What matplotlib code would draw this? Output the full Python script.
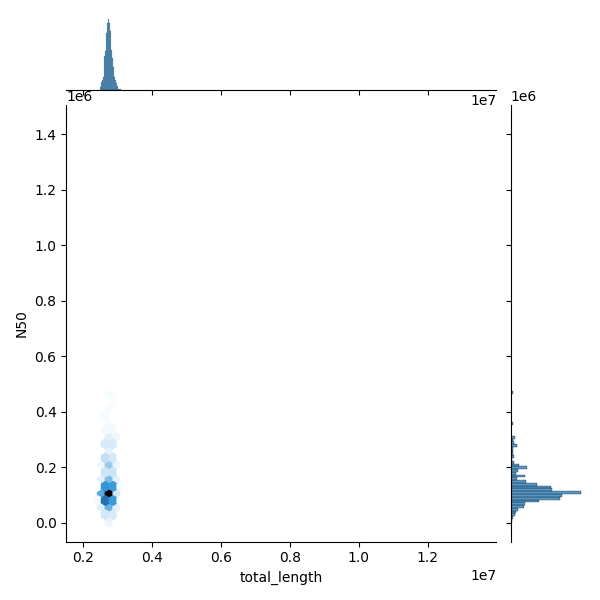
import matplotlib
matplotlib.use("Agg")
import matplotlib.pyplot as plt
import matplotlib as mpl
import numpy as np
import seaborn as sns

# joint data: (total_length, N50, number of assemblies)
hex_len = [2.770e6, 2.657e6, 2.883e6, 2.657e6, 2.883e6, 2.543e6, 2.996e6,
           2.770e6, 2.770e6, 2.543e6, 2.996e6, 2.543e6, 2.996e6, 2.657e6,
           2.883e6, 2.770e6, 2.657e6, 2.883e6, 2.770e6, 2.543e6, 2.996e6,
           2.657e6, 2.883e6, 2.770e6, 2.657e6, 2.883e6, 2.770e6, 2.996e6,
           2.657e6, 2.883e6, 2.770e6, 2.657e6, 2.770e6, 2.883e6, 2.770e6,
           2.430e6, 3.110e6,
           13.42e6, 2.090e6, 2.900e6]
hex_n50 = [0.105e6, 0.0795e6, 0.0795e6, 0.1305e6, 0.1305e6, 0.105e6, 0.105e6,
           0.054e6, 0.156e6, 0.054e6, 0.054e6, 0.156e6, 0.156e6, 0.0285e6,
           0.0285e6, 0.003e6, 0.1815e6, 0.1815e6, 0.207e6, 0.207e6, 0.207e6,
           0.2325e6, 0.2325e6, 0.258e6, 0.2835e6, 0.2835e6, 0.309e6, 0.309e6,
           0.3345e6, 0.3345e6, 0.360e6, 0.3855e6, 0.411e6, 0.4365e6, 0.462e6,
           0.0795e6, 0.1305e6,
           0.050e6, 0.100e6, 1.433e6]
hex_count = [300, 180, 135, 144, 135, 114, 30,
             105, 90, 24, 18, 21, 18, 30,
             27, 15, 36, 36, 72, 12, 15,
             42, 30, 18, 27, 27, 21, 12,
             9, 9, 6, 6, 6, 4, 8,
             9, 6,
             1, 1, 1]

# marginal histogram of total_length
len_hist_start = 2.49e6
len_hist_width = 0.029e6
len_hist_counts = [10, 25, 30, 40, 100, 115, 170, 200, 212, 200, 175,
                   120, 95, 70, 40, 30, 20, 12, 5, 3, 3]

# marginal histogram of N50
n50_hist_start = 0.003e6
n50_hist_width = 0.01e6
n50_hist_counts = [2, 5, 12, 15, 22, 38, 42, 82, 145, 150, 207, 120, 117, 78,
                   45, 18, 42, 16, 22, 48, 25, 8, 3, 8, 5, 5, 5, 18, 8, 6,
                   12, 0, 0, 0, 0, 5, 0, 0, 0, 0, 0, 0, 0, 0, 0, 0, 5]

color = "C0"
color_rgb = mpl.colors.to_rgb(color)
colors = [sns.utils.set_hls_values(color_rgb, l=l) for l in np.linspace(1, 0, 12)]
cmap = sns.blend_palette(colors, as_cmap=True)

g = sns.JointGrid(height=6)

x_pts = np.repeat(hex_len, hex_count)
y_pts = np.repeat(hex_n50, hex_count)
g.ax_joint.hexbin(x_pts, y_pts, gridsize=50, cmap=cmap)

n_len = len(len_hist_counts)
len_centers = len_hist_start + len_hist_width * (np.arange(n_len) + 0.5)
sns.histplot(x=len_centers, weights=np.array(len_hist_counts, dtype=float),
             binwidth=len_hist_width,
             binrange=(len_hist_start, len_hist_start + n_len * len_hist_width),
             color=color, ax=g.ax_marg_x)

n_n50 = len(n50_hist_counts)
n50_centers = n50_hist_start + n50_hist_width * (np.arange(n_n50) + 0.5)
sns.histplot(y=n50_centers, weights=np.array(n50_hist_counts, dtype=float),
             binwidth=n50_hist_width,
             binrange=(n50_hist_start, n50_hist_start + n_n50 * n50_hist_width),
             color=color, ax=g.ax_marg_y)

g.ax_marg_x.yaxis.get_label().set_visible(False)
g.ax_marg_y.xaxis.get_label().set_visible(False)
g.set_axis_labels("total_length", "N50")

g.figure.tight_layout()
g.figure.subplots_adjust(hspace=0.2, wspace=0.2)
g.figure.savefig("out.png", dpi=100)
